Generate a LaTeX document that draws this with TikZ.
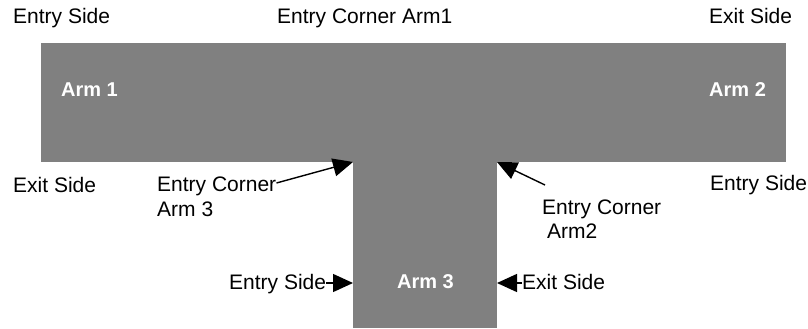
\documentclass[tikz,border=0pt]{standalone}
\usepackage{fontspec}
\setmainfont{Liberation Sans}
\usetikzlibrary{arrows.meta}
\definecolor{armgrey}{HTML}{808080}
\tikzset{
  lbl/.style={anchor=base west, inner sep=0pt, font=\fontsize{21}{24}\selectfont, align=left},
  armlbl/.style={anchor=base west, inner sep=0pt, text=white, font=\fontsize{20}{24}\selectfont\bfseries},
  armfill/.style={fill=armgrey, draw=none},
  ptr/.style={line width=1.4pt, -{Triangle[length=20pt,width=18pt]}}
}
\begin{document}
\begin{tikzpicture}[x=1pt,y=-1pt]
\useasboundingbox (0,0) rectangle (808,329);
% shapes
\path[armfill] (41,43) rectangle (786,162);
\path[armfill] (353,161) rectangle (497,328);
% corner / edge coordinates
\coordinate (c3) at (353,162);
\coordinate (c2) at (497,162);
\coordinate (sl) at (353,283);
\coordinate (sr) at (497,283);
% top labels
\node[lbl] (es1) at (13,24) {Entry Side};
\node[lbl] (eca1) at (277,24) {Entry Corner Arm1};
\node[lbl] (xs1) at (709,24) {Exit Side};
% arm labels
\node[armlbl] (a1) at (61,96) {Arm 1};
\node[armlbl] (a2) at (709,96) {Arm 2};
\node[armlbl] (a3) at (397,288) {Arm 3};
% lower labels
\node[lbl] (xs2) at (13,192) {Exit Side};
\node[lbl] (es2) at (710,190) {Entry Side};
\node[lbl] (eca3) at (157,191) {Entry Corner};
\node[lbl] (eca3b) at (157,216) {Arm 3};
\node[lbl] (eca2) at (542,214) {Entry Corner};
\node[lbl] (eca2b) at (547,238) {Arm2};
\node[lbl] (es3) at (229,289) {Entry Side};
\node[lbl] (xs3) at (522,289) {Exit Side};
% pointers
\draw[ptr] (eca3.east |- 0,183) -- (c3);
\draw[ptr] (545,185) -- (c2);
\draw[ptr] (es3.east |- sl) -- (sl);
\draw[ptr] (xs3.west |- sr) -- (sr);
\end{tikzpicture}
\end{document}
